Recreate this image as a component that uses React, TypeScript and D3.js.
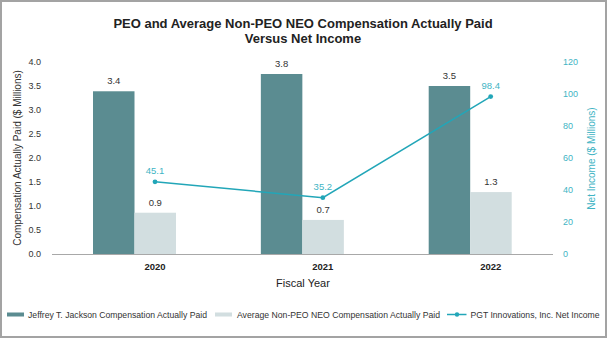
import React from "react";
import * as d3 from "d3";

const years = ["2020", "2021", "2022"];
const peoValues = [3.39, 3.75, 3.5];
const peoLabels = ["3.4", "3.8", "3.5"];
const neoValues = [0.86, 0.71, 1.29];
const neoLabels = ["0.9", "0.7", "1.3"];
const netIncome = [45.1, 35.2, 98.4];
const netLabels = ["45.1", "35.2", "98.4"];
const leftTicks = [0, 0.5, 1, 1.5, 2, 2.5, 3, 3.5, 4];
const rightTicks = [0, 20, 40, 60, 80, 100, 120];
const seriesNames = [
  "Jeffrey T. Jackson Compensation Actually Paid",
  "Average Non-PEO NEO Compensation Actually Paid",
  "PGT Innovations, Inc. Net Income",
];

const W = 607;
const H = 338;
const FONT = "'Liberation Sans', Arial, sans-serif";
const DARK = "#5b8c91";
const LIGHT = "#d2dee0";
const TEAL = "#22a6b8";
const TEAL_TXT = "#3fb4c4";
const TXT = "#333";

export default function App() {
  const x = d3.scalePoint<string>().domain(years).range([155, 490.7]);
  const sub = d3.scaleBand<string>().domain(["peo", "neo"]).range([-62, 21]).padding(0);
  const yL = d3.scaleLinear().domain([0, 4]).range([254, 62]);
  const yR = d3.scaleLinear().domain([0, 120]).range([254, 62]);
  const line = d3
    .line<number>()
    .x((_, i) => x(years[i]) as number)
    .y((d) => yR(d));

  return (
    <svg
      width={W}
      height={H}
      style={{ position: "absolute", left: 0, top: 0, background: "#fff" }}
      fontFamily={FONT}
    >
      <rect x={1} y={1} width={W - 2} height={H - 2} fill="#fff" stroke="#a3a3a3" strokeWidth={2} />
      <text x={303} y={27.5} textAnchor="middle" fontSize={13} fontWeight="bold" fill="#222">
        PEO and Average Non-PEO NEO Compensation Actually Paid
      </text>
      <text x={303} y={43.2} textAnchor="middle" fontSize={13} fontWeight="bold" fill="#222">
        Versus Net Income
      </text>

      {/* left ticks */}
      {leftTicks.map((t) => (
        <text key={"l" + t} x={41} y={yL(t) + 3.2} textAnchor="end" fontSize={9} fill={TXT}>
          {t.toFixed(1)}
        </text>
      ))}
      {/* right ticks */}
      {rightTicks.map((t) => (
        <text key={"r" + t} x={563} y={yR(t) + 3.2} textAnchor="start" fontSize={9} fill={TEAL_TXT}>
          {t}
        </text>
      ))}

      <text
        transform={`translate(20.5,158) rotate(-90)`}
        textAnchor="middle"
        fontSize={10}
        fill={TXT}
      >
        Compensation Actually Paid ($ Millions)
      </text>
      <text
        transform={`translate(594.5,158.5) rotate(-90)`}
        textAnchor="middle"
        fontSize={10}
        fill={TEAL_TXT}
      >
        Net Income ($ Millions)
      </text>

      {/* bars */}
      {years.map((yr, i) => {
        const cx = x(yr) as number;
        const x1 = cx + (sub("peo") as number);
        const x2 = cx + (sub("neo") as number);
        const bw = sub.bandwidth();
        return (
          <g key={yr}>
            <rect x={x1} y={yL(peoValues[i])} width={bw} height={yL(0) - yL(peoValues[i])} fill={DARK} />
            <rect x={x2} y={yL(neoValues[i])} width={bw} height={yL(0) - yL(neoValues[i])} fill={LIGHT} />
            <text x={x1 + bw / 2} y={yL(peoValues[i]) - 7} textAnchor="middle" fontSize={9.5} fill={TXT}>
              {peoLabels[i]}
            </text>
            <text x={x2 + bw / 2} y={yL(neoValues[i]) - 7} textAnchor="middle" fontSize={9.5} fill={TXT}>
              {neoLabels[i]}
            </text>
            <text x={cx} y={269.5} textAnchor="middle" fontSize={9.5} fontWeight="bold" fill="#222">
              {yr}
            </text>
          </g>
        );
      })}

      <line x1={52} x2={553} y1={254.5} y2={254.5} stroke="#a8a8a8" strokeWidth={1} />

      {/* line */}
      <path d={line(netIncome) || ""} fill="none" stroke={TEAL} strokeWidth={1.5} />
      {netIncome.map((v, i) => (
        <g key={"n" + i}>
          <circle cx={x(years[i]) as number} cy={yR(v)} r={2.4} fill={TEAL} />
          <text x={x(years[i]) as number} y={yR(v) - 8} textAnchor="middle" fontSize={9.5} fill={TEAL_TXT}>
            {netLabels[i]}
          </text>
        </g>
      ))}

      <text x={303} y={286.5} textAnchor="middle" fontSize={11} fill="#222">
        Fiscal Year
      </text>

      {/* legend */}
      <rect x={7} y={312.5} width={17} height={4} fill={DARK} />
      <text x={28} y={317.8} fontSize={9} fill={TXT} textLength={179} lengthAdjust="spacingAndGlyphs">
        {seriesNames[0]}
      </text>
      <rect x={215} y={312.5} width={17} height={4} fill={LIGHT} />
      <text x={237} y={317.8} fontSize={9} fill={TXT} textLength={203} lengthAdjust="spacingAndGlyphs">
        {seriesNames[1]}
      </text>
      <line x1={447} x2={466.5} y1={314.5} y2={314.5} stroke={TEAL} strokeWidth={1.5} />
      <circle cx={457} cy={314.5} r={2.2} fill={TEAL} />
      <text x={470.5} y={317.8} fontSize={9} fill={TXT} textLength={129} lengthAdjust="spacingAndGlyphs">
        {seriesNames[2]}
      </text>
    </svg>
  );
}
